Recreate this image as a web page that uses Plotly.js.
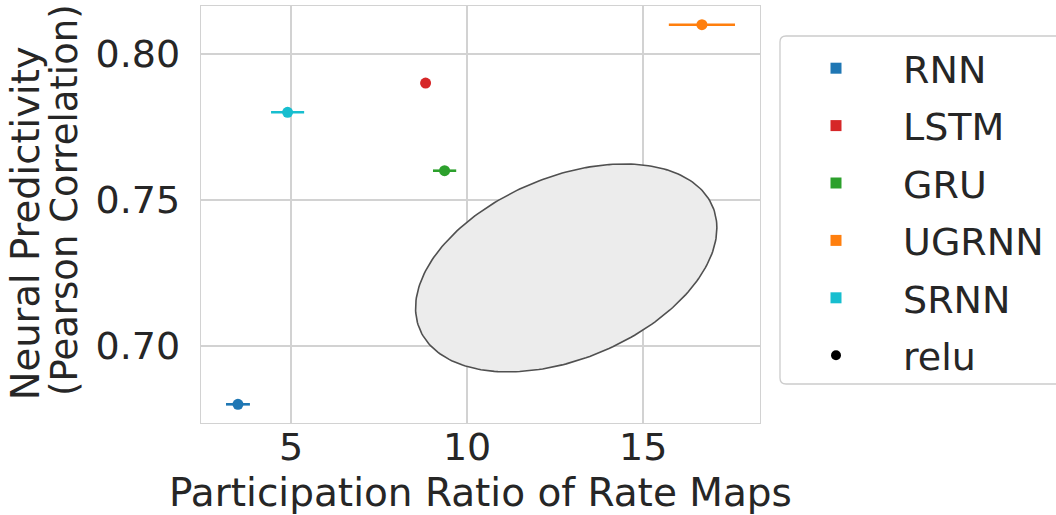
<!DOCTYPE html>
<html>
<head>
<meta charset="utf-8">
<script src="https://cdn.plot.ly/plotly-3.0.1.min.js"></script>
<style>html,body{margin:0;padding:0;background:#fff;}#chart{width:1056px;height:515px;}</style>
</head>
<body>
<div id="chart"></div>
<script>
// ---- data ----
const models = ['RNN', 'LSTM', 'GRU', 'UGRNN', 'SRNN'];
const modelColors = ['#1f77b4', '#d62728', '#2ca02c', '#ff7f0e', '#17becf'];
const participationRatio = [3.49, 8.82, 9.36, 16.67, 4.90];
const participationRatioErr = [0.34, 0.05, 0.33, 0.94, 0.47];
const neuralPredictivity = [0.680, 0.790, 0.760, 0.810, 0.780];
const activationLabel = 'relu';

// grey ellipse (centre, spread, correlation)
const ellipseCenter = [12.815, 0.7267];
const ellipseSpread = [4.28, 0.0356];
const ellipseCorr = 0.385;

const xTicks = [5, 10, 15];
const yTicks = [0.70, 0.75, 0.80];
const xTitle = 'Participation Ratio of Rate Maps';
const yTitleLines = ['Neural Predictivity', '(Pearson Correlation)'];

// ---- build ----
const FONT = 'DejaVu Sans';
const TXT = '#262626';
const traces = [];

// ellipse outline from its parameters
const ex = [], ey = [];
const nSeg = 240;
for (let i = 0; i <= nSeg; i++) {
  const t = 2 * Math.PI * i / nSeg;
  ex.push(ellipseCenter[0] + ellipseSpread[0] * Math.cos(t));
  ey.push(ellipseCenter[1] + ellipseSpread[1] * (ellipseCorr * Math.cos(t) - Math.sqrt(1 - ellipseCorr * ellipseCorr) * Math.sin(t)));
}
traces.push({
  x: ex, y: ey, mode: 'lines', fill: 'toself', fillcolor: '#ececec',
  line: {color: '#505050', width: 1.6}, showlegend: false, hoverinfo: 'skip'
});

// data points with horizontal error bars
models.forEach((m, i) => {
  traces.push({
    x: [participationRatio[i]], y: [neuralPredictivity[i]],
    mode: 'markers', name: m, showlegend: false,
    marker: {color: modelColors[i], size: 11, symbol: 'circle'},
    error_x: {type: 'data', array: [participationRatioErr[i]], color: modelColors[i], thickness: 2.6, width: 0}
  });
});

// legend entries
models.forEach((m, i) => {
  traces.push({
    x: [null], y: [null], mode: 'markers',
    name: '\u00a0' + m, legendgroup: 'g' + i,
    marker: {color: modelColors[i], size: 11, symbol: 'square'}, showlegend: true
  });
});
traces.push({
  x: [null], y: [null], mode: 'markers', name: '\u00a0' + activationLabel, legendgroup: 'g_act',
  marker: {color: '#000000', size: 10, symbol: 'circle'}, showlegend: true
});

const L = 201, R = 760, T = 6, B = 423;
const W = 1056, H = 515;
function px2paperX(px) { return (px - L) / (R - L); }
function px2paperY(py) { return (B - py) / (B - T); }

// legend frame (runs past the right edge of the figure, as in the reference)
const fx0 = 780, fx1 = 1075, fy0 = 36, fy1 = 384, rr = 6;
const framePath = [
  'M', px2paperX(fx0 + rr), px2paperY(fy0),
  'L', px2paperX(fx1), px2paperY(fy0),
  'L', px2paperX(fx1), px2paperY(fy1),
  'L', px2paperX(fx0 + rr), px2paperY(fy1),
  'Q', px2paperX(fx0), px2paperY(fy1), px2paperX(fx0), px2paperY(fy1 - rr),
  'L', px2paperX(fx0), px2paperY(fy0 + rr),
  'Q', px2paperX(fx0), px2paperY(fy0), px2paperX(fx0 + rr), px2paperY(fy0), 'Z'
].join(' ');

const layout = {
  width: W, height: H,
  margin: {l: L, r: W - R, t: T, b: H - B, pad: 0},
  paper_bgcolor: '#ffffff', plot_bgcolor: '#ffffff',
  font: {family: FONT, size: 38, color: TXT},
  showlegend: true,
  xaxis: {
    range: [2.44, 18.32], tickvals: xTicks, ticktext: xTicks.map(String),
    showgrid: true, gridcolor: '#d2d2d2', gridwidth: 1.3, zeroline: false,
    showline: true, mirror: true, linecolor: '#d2d2d2', linewidth: 1.3,
    ticks: '', ticklabelstandoff: -10,
    tickfont: {family: FONT, size: 38, color: TXT},
    title: {text: xTitle, font: {family: FONT, size: 39, color: TXT}, standoff: 17}
  },
  yaxis: {
    range: [0.6736, 0.8164], tickvals: yTicks, ticktext: yTicks.map(v => v.toFixed(2)),
    showgrid: true, gridcolor: '#d2d2d2', gridwidth: 1.3, zeroline: false,
    showline: true, mirror: true, linecolor: '#d2d2d2', linewidth: 1.3,
    ticks: '', ticklabelstandoff: 12,
    tickfont: {family: FONT, size: 38, color: TXT}
  },
  legend: {
    xref: 'container', yref: 'container',
    x: 781 / W, y: 1 - 37 / H, xanchor: 'left', yanchor: 'top',
    bgcolor: 'rgba(0,0,0,0)', borderwidth: 0,
    font: {family: FONT, size: 38, color: TXT},
    itemwidth: 100, tracegroupgap: 5, traceorder: 'grouped', maxheight: 420
  },
  shapes: [
    {type: 'path', xref: 'paper', yref: 'paper', path: framePath,
     line: {color: '#cccccc', width: 1.3}, fillcolor: '#ffffff', layer: 'below'}
  ],
  annotations: [
    {text: yTitleLines[0], xref: 'paper', yref: 'paper', x: px2paperX(25.3), y: px2paperY(223),
     xanchor: 'center', yanchor: 'middle', textangle: -90, showarrow: false,
     font: {family: FONT, size: 38.5, color: TXT}},
    {text: yTitleLines[1], xref: 'paper', yref: 'paper', x: px2paperX(64), y: px2paperY(200),
     xanchor: 'center', yanchor: 'middle', textangle: -90, showarrow: false,
     font: {family: FONT, size: 37, color: TXT}}
  ]
};

Plotly.newPlot('chart', traces, layout, {staticPlot: true, displayModeBar: false});
</script>
</body>
</html>
